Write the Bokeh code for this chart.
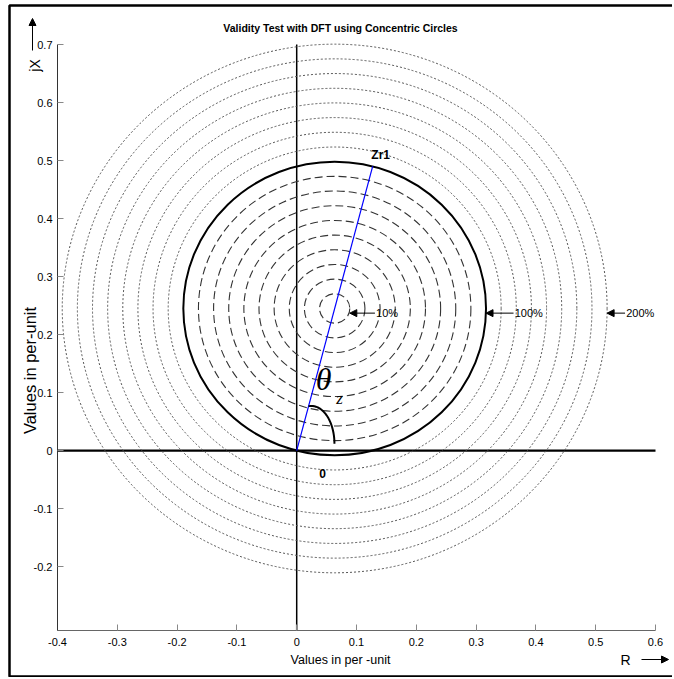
import numpy as np
from bokeh.plotting import figure
from bokeh.models import Label, Arrow, NormalHead, FixedTicker, Range1d
from bokeh.embed import file_html
from bokeh.resources import INLINE

# ---------------- data ----------------
title_text = "Validity Test with DFT using Concentric Circles"
x_label_text = "Values in per -unit"
y_label_text = "Values in per-unit"
x_ticks = [-0.4, -0.3, -0.2, -0.1, 0.0, 0.1, 0.2, 0.3, 0.4, 0.5, 0.6]
y_ticks = [-0.2, -0.1, 0.0, 0.1, 0.2, 0.3, 0.4, 0.5, 0.6, 0.7]
x_lim = [-0.4, 0.6]
y_lim = [-0.31, 0.7]

zr1 = [0.127, 0.49]                                     # end of the impedance phasor
inner_pct = [10, 20, 30, 40, 50, 60, 70, 80, 90]        # dashed circles
full_pct = [100]                                        # solid circle
outer_pct = [110, 120, 130, 140, 150, 160, 170, 180]    # dotted circles

pointer_text = ["10%", "100%", "200%"]
pointer_pct = [10, 100, 180]
pointer_len = [0.042, 0.046, 0.030]
pointer_y = 0.237

theta_center = [0.0246, 0.012]
theta_rx = 0.0385
theta_ry = 0.065
theta_deg = [0, 97]

# ---------------- layout helpers (page pixels -> data) ----------------
W, H = 672, 677
PX_X = (57, 655)   # page x of x_lim
PX_Y = (44, 630)   # page y of y_lim[1], y_lim[0]


def px2x(px):
    return x_lim[0] + (px - PX_X[0]) * (x_lim[1] - x_lim[0]) / (PX_X[1] - PX_X[0])


def px2y(py):
    return y_lim[1] - (py - PX_Y[0]) * (y_lim[1] - y_lim[0]) / (PX_Y[1] - PX_Y[0])


cx, cy = zr1[0] / 2, zr1[1] / 2
r100 = float(np.hypot(zr1[0], zr1[1]) / 2)

SANS = "'Liberation Sans', Arial, sans-serif"
SERIF = "'Liberation Serif', 'DejaVu Serif', serif"

p = figure(width=W, height=H, output_backend="svg", toolbar_location=None, title=None,
           x_range=Range1d(px2x(0), px2x(W)), y_range=Range1d(px2y(H), px2y(0)),
           min_border=0)
p.outline_line_color = None
p.xgrid.visible = False
p.ygrid.visible = False
p.background_fill_color = "white"
p.border_fill_color = "white"

p.xaxis.fixed_location = y_lim[0]
p.xaxis.bounds = (x_lim[0], x_lim[1])
p.yaxis.fixed_location = x_lim[0]
p.yaxis.bounds = (y_lim[0], y_lim[1])

for ax, ticks in ((p.xaxis[0], x_ticks), (p.yaxis[0], y_ticks)):
    ax.ticker = FixedTicker(ticks=ticks, minor_ticks=[])
    ax.major_label_overrides = {t: ("0" if abs(t) < 1e-9 else f"{t:g}") for t in ticks}
    ax.major_tick_in = 6
    ax.major_tick_out = 0
    ax.minor_tick_in = 0
    ax.minor_tick_out = 0
    ax.axis_line_color = "#666666"
    ax.major_tick_line_color = "#888888"
    ax.major_label_text_font = SANS
    ax.major_label_text_font_size = "11px"
    ax.major_label_text_color = "black"
    ax.major_label_standoff = 7
p.yaxis[0].axis_line_color = "#333333"
p.yaxis[0].major_label_standoff = 5

# outer frame of the picture
p.quad(left=[px2x(9)], right=[px2x(W + 20)], top=[px2y(5)], bottom=[px2y(676)],
       fill_color=None, line_color="black", line_width=2.5)

# reference lines (real and imaginary axes)
p.segment(x0=[x_lim[0], 0], y0=[0, y_lim[0]], x1=[x_lim[1], 0], y1=[0, y_lim[1]],
          line_color="black", line_width=[2.2, 1.5])

# circles
def ring(pcts, **kw):
    d = [2 * r100 * q / 100 for q in pcts]
    p.ellipse(x=[cx] * len(pcts), y=[cy] * len(pcts), width=d, height=d,
              fill_color=None, **kw)


ring(outer_pct, line_color="#555555", line_dash="2 2", line_width=1)
ring(inner_pct, line_color="#333333", line_dash="8 4", line_width=1.1)
ring(full_pct, line_color="black", line_width=2)

# phasor
p.line(x=[0, zr1[0]], y=[0, zr1[1]], line_color="blue", line_width=1.2)

# theta arc
t = np.radians(np.linspace(theta_deg[0], theta_deg[1], 60))
p.line(x=theta_center[0] + theta_rx * np.cos(t), y=theta_center[1] + theta_ry * np.sin(t),
       line_color="black", line_width=2)


def label(x, y, text, **kw):
    kw.setdefault("text_font", SANS)
    kw.setdefault("text_align", "center")
    kw.setdefault("text_baseline", "middle")
    kw.setdefault("text_color", "black")
    p.add_layout(Label(x=x, y=y, text=text, **kw))


def arrow(x0, y0, x1, y1):
    p.add_layout(Arrow(end=NormalHead(size=7, fill_color="black", line_color="black"),
                       x_start=x0, y_start=y0, x_end=x1, y_end=y1,
                       line_color="black", line_width=1))


# pointers
for txt, q, ln in zip(pointer_text, pointer_pct, pointer_len):
    tip = cx + r100 * q / 100
    arrow(tip + ln, pointer_y, tip, pointer_y)
    label(tip + ln + 0.002, pointer_y, txt, text_font_size="11px", text_align="left")

# labels in chart
label(zr1[0], zr1[1], "Zr1", text_font_size="12px", text_font_style="bold",
      x_offset=8, y_offset=11)
label(px2x(322), px2y(473), "0", text_font_size="12px", text_font_style="bold")
label(px2x(323), px2y(378), "θ", text_font=SERIF, text_font_size="32px",
      text_font_style="italic")
label(px2x(339), px2y(398), "z", text_font=SERIF, text_font_size="17px",
      text_font_style="italic")

# title and axis labels
label(px2x(340), px2y(27), title_text, text_font_size="10.5px", text_font_style="bold")
label(px2x(340), px2y(659), x_label_text, text_font_size="12.5px")
label(px2x(625), px2y(659), "R", text_font_size="14px")
arrow(px2x(641), px2y(659), px2x(668), px2y(659))
label(px2x(29), px2y(370), y_label_text, text_font_size="16.5px", angle=np.pi / 2)
label(px2x(34), px2y(65), "jX", text_font_size="14px", angle=np.pi / 2)
arrow(px2x(32), px2y(50), px2x(32), px2y(18))

open("out.html", "w").write(file_html(p, INLINE))
